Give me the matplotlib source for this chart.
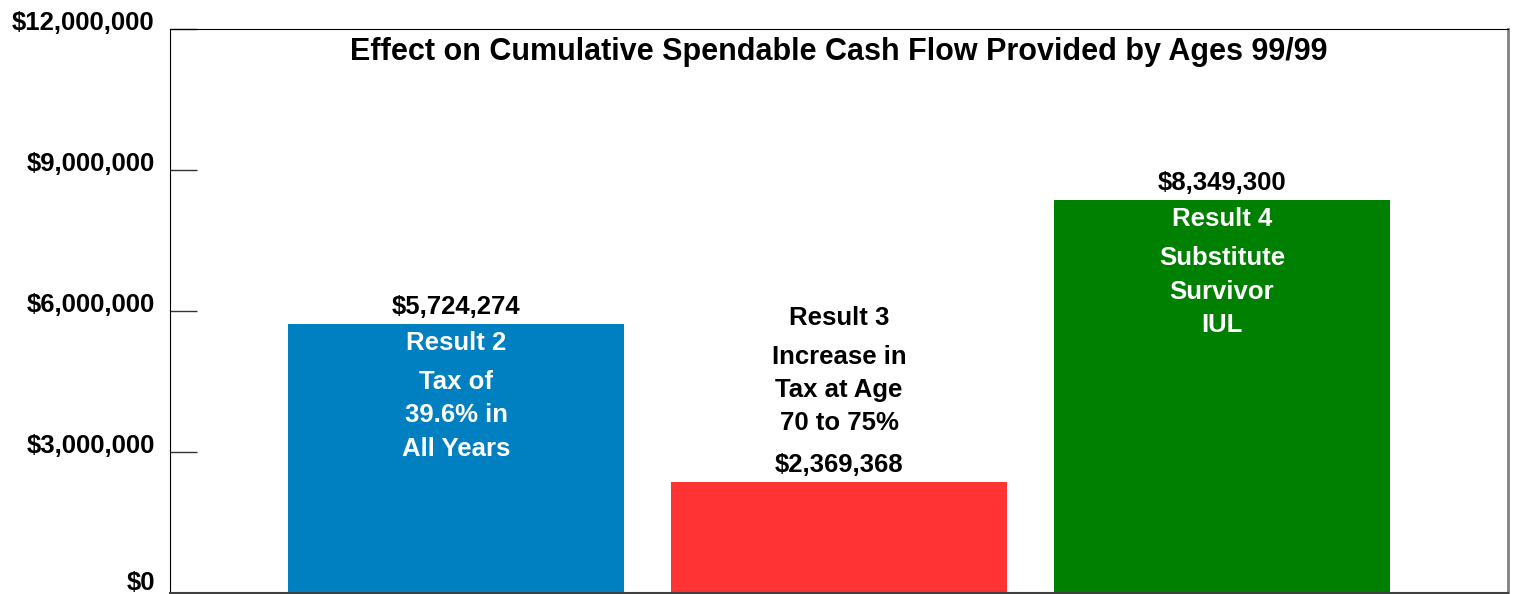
import matplotlib.pyplot as plt
import matplotlib.transforms as mtransforms
from matplotlib.ticker import FuncFormatter

plt.rcParams['font.family'] = ['Liberation Sans', 'DejaVu Sans']
plt.rcParams['font.weight'] = 'bold'

# ── Data ───────────────────────────────────────────────────────────────────
results = ['Result 2', 'Result 3', 'Result 4']
details = ['Tax of\n39.6% in\nAll Years',
           'Increase in\nTax at Age\n70 to 75%',
           'Substitute\nSurvivor\nIUL']
cash_flow = [5724274, 2369368, 8349300]
colors = ['#0080C0', '#FF3333', '#008000']
y_ticks = [0, 3000000, 6000000, 9000000, 12000000]

FS = 18.5
STEP = 24.1  # line step in points

# ── Figure ─────────────────────────────────────────────────────────────────
fig = plt.figure(figsize=(15.16, 5.94), dpi=100)
ax = fig.add_axes([170 / 1516, 1 / 594, 1338 / 1516, 564.5 / 594])

x = list(range(len(results)))
ax.bar(x, cash_flow, width=0.877, color=colors, zorder=2)

ax.set_xlim(-0.747, 2.747)
ax.set_ylim(0, 12000000)
ax.set_xticks([])
ax.set_yticks(y_ticks)
ax.yaxis.set_major_formatter(FuncFormatter(lambda v, p: f'${v:,.0f}'))
ax.tick_params(axis='y', direction='in', length=19.5, width=1, color='#333333',
               labelsize=FS, pad=11)
# labels sit a little above their tick marks; keep $0 inside the canvas
for lab, tv in zip(ax.get_yticklabels(), y_ticks):
    up = 12 if tv == 0 else 8
    shift = mtransforms.ScaledTranslation(0, up / 100, fig.dpi_scale_trans)
    lab.set_transform(lab.get_transform() + shift)

ax.spines['left'].set_color('black')
ax.spines['top'].set_color('black')
ax.spines['right'].set_color('#808080')
ax.spines['right'].set_linewidth(2)
ax.spines['bottom'].set_color('#404040')
ax.spines['bottom'].set_linewidth(1.5)

ax.text(0.5, 0.958, 'Effect on Cumulative Spendable Cash Flow Provided by Ages 99/99',
        transform=ax.transAxes, ha='center', va='center', fontsize=22)


def put(txt, i, val, dy, color='black'):
    ax.annotate(txt, (i, val), xytext=(0, dy), textcoords='offset points',
                ha='center', va='center', fontsize=FS, color=color)


for i, (res, det, val) in enumerate(zip(results, details, cash_flow)):
    put(f'${val:,.0f}', i, val, 12.2)
    lines = det.split('\n')
    if val > 4000000:
        # text inside the bar
        put(res, i, val, -13.7, 'white')
        for k, line in enumerate(lines):
            put(line, i, val, -41.8 - k * STEP, 'white')
    else:
        # short bar, text stacked above the value
        put(res, i, val, 117.4)
        for k, line in enumerate(lines):
            put(line, i, val, 90 - k * STEP)

fig.savefig('out.png', dpi=100)
